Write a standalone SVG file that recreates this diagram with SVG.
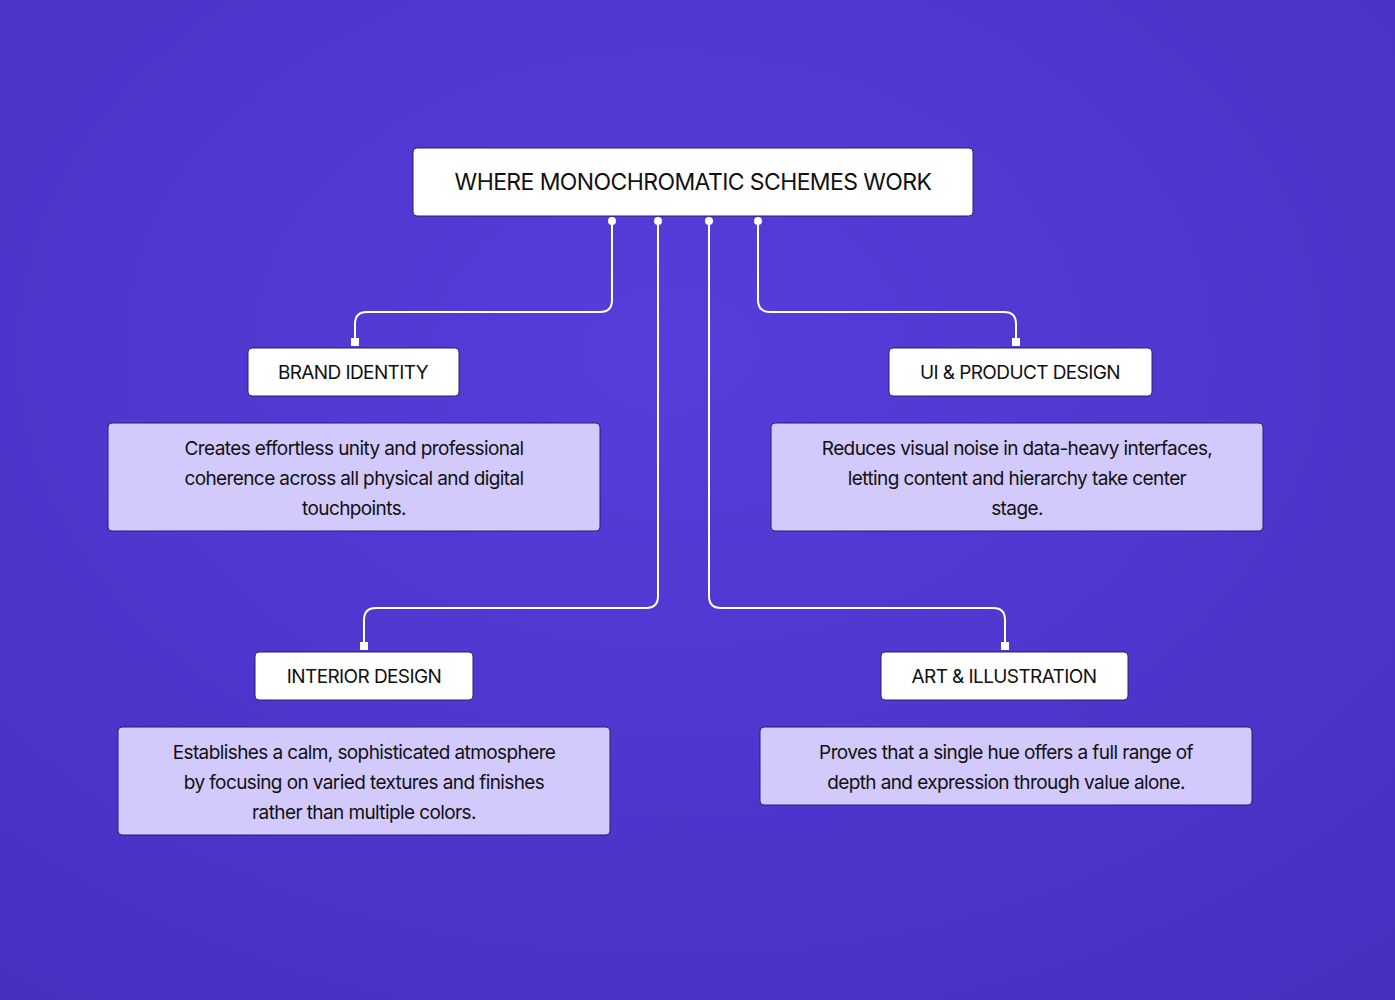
<svg xmlns="http://www.w3.org/2000/svg" width="1395" height="1000" viewBox="0 0 1395 1000">
<defs>
<radialGradient id="bg" cx="0.48" cy="0.35" r="0.8">
<stop offset="0" stop-color="#573ddb"/>
<stop offset="1" stop-color="#4630c2"/>
</radialGradient>
<style>
.n{fill:#fff;stroke:#2a1f6e;stroke-width:1}
.d{fill:#d2cafc;stroke:#2a1f6e;stroke-width:1}
text{font-family:Inter,"Liberation Sans",sans-serif;fill:#111;text-anchor:middle;letter-spacing:-0.6px}
.t{font-size:23px}
.l{font-size:19px}
.x{font-size:19px}
.c{fill:none;stroke:#fff;stroke-width:2}
</style>
</defs>
<rect width="1395" height="1000" fill="url(#bg)"/>
<g id="connectors">
<path class="c" d="M612 221V300Q612 312 600 312H367Q355 312 355 324V342"/>
<path class="c" d="M658 221V596Q658 608 646 608H376Q364 608 364 620V646"/>
<path class="c" d="M709 221V596Q709 608 721 608H993Q1005 608 1005 620V646"/>
<path class="c" d="M758 221V300Q758 312 770 312H1004Q1016 312 1016 324V342"/>
<g fill="#fff"><circle cx="612" cy="221" r="4"/><circle cx="658" cy="221" r="4"/><circle cx="709" cy="221" r="4"/><circle cx="758" cy="221" r="4"/>
<rect x="351" y="338" width="8" height="8"/><rect x="360" y="642" width="8" height="8"/><rect x="1001" y="642" width="8" height="8"/><rect x="1012" y="338" width="8" height="8"/></g>
</g>
<g id="title"><rect class="n" x="413" y="148" width="560" height="68" rx="4"/><text class="t" x="693" y="190">WHERE MONOCHROMATIC SCHEMES WORK</text></g>
<g id="brand"><rect class="n" x="248" y="348" width="211" height="48" rx="4"/><text class="l" x="353" y="379">BRAND IDENTITY</text></g>
<g id="brand-desc"><rect class="d" x="108" y="423" width="492" height="108" rx="4"/><text class="x" x="354" y="455">Creates effortless unity and professional</text><text class="x" x="354" y="485">coherence across all physical and digital</text><text class="x" x="354" y="515">touchpoints.</text></g>
<g id="ui"><rect class="n" x="889" y="348" width="263" height="48" rx="4"/><text class="l" x="1020" y="379">UI &amp; PRODUCT DESIGN</text></g>
<g id="ui-desc"><rect class="d" x="771" y="423" width="492" height="108" rx="4"/><text class="x" x="1017" y="455">Reduces visual noise in data-heavy interfaces,</text><text class="x" x="1017" y="485">letting content and hierarchy take center</text><text class="x" x="1017" y="515">stage.</text></g>
<g id="interior"><rect class="n" x="255" y="652" width="218" height="48" rx="4"/><text class="l" x="364" y="683">INTERIOR DESIGN</text></g>
<g id="interior-desc"><rect class="d" x="118" y="727" width="492" height="108" rx="4"/><text class="x" x="364" y="759">Establishes a calm, sophisticated atmosphere</text><text class="x" x="364" y="789">by focusing on varied textures and finishes</text><text class="x" x="364" y="819">rather than multiple colors.</text></g>
<g id="art"><rect class="n" x="881" y="652" width="247" height="48" rx="4"/><text class="l" x="1004" y="683">ART &amp; ILLUSTRATION</text></g>
<g id="art-desc"><rect class="d" x="760" y="727" width="492" height="78" rx="4"/><text class="x" x="1006" y="759">Proves that a single hue offers a full range of</text><text class="x" x="1006" y="789">depth and expression through value alone.</text></g>
</svg>
